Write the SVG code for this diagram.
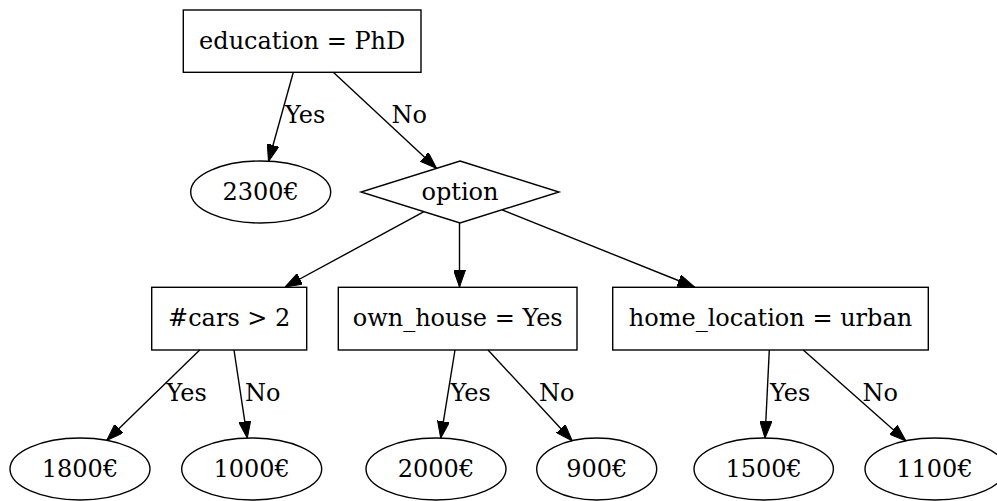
<svg xmlns="http://www.w3.org/2000/svg" width="997" height="501" viewBox="0 0 997 501">
  <style>
    .shape { fill: none; stroke: #000; stroke-width: 1.4; }
    .label { font-family: "DejaVu Serif", serif; font-size: 24px; fill: #000; }
    .node-text { text-anchor: middle; }
    .edge { stroke: #000; stroke-width: 1.4; fill: none; marker-end: url(#arrow); }
  </style>
  <defs>
    <marker id="arrow" viewBox="0 -6 17 12" markerWidth="17" markerHeight="12" refX="17" refY="0" orient="auto" markerUnits="userSpaceOnUse">
      <path d="M0,-6 L17,0 L0,6 Z" fill="#000" stroke="#000" stroke-width="1"/>
    </marker>
  </defs>
  <rect x="0" y="0" width="997" height="501" fill="#fff"/>

  <!-- connectors -->
  <g id="edges">
    <line class="edge" x1="293.3" y1="72.3" x2="268.5" y2="161.5"/>
    <text class="label" x="285" y="123">Yes</text>
    <line class="edge" x1="333.3" y1="72.3" x2="436.7" y2="168.5"/>
    <text class="label" x="391.5" y="123">No</text>

    <line class="edge" x1="424" y1="211.7" x2="285" y2="287"/>
    <line class="edge" x1="459.5" y1="223" x2="459.5" y2="287"/>
    <line class="edge" x1="502" y1="209.8" x2="694.5" y2="287"/>

    <line class="edge" x1="199.7" y1="350" x2="106.7" y2="440.5"/>
    <text class="label" x="166.5" y="401">Yes</text>
    <line class="edge" x1="234" y1="350" x2="247.3" y2="438.2"/>
    <text class="label" x="245" y="401">No</text>

    <line class="edge" x1="455" y1="350" x2="440.7" y2="438.2"/>
    <text class="label" x="450.5" y="401">Yes</text>
    <line class="edge" x1="488" y1="350" x2="572.3" y2="441"/>
    <text class="label" x="539" y="401">No</text>

    <line class="edge" x1="769.3" y1="350" x2="765" y2="438.2"/>
    <text class="label" x="770" y="401">Yes</text>
    <line class="edge" x1="803.3" y1="350" x2="906" y2="441"/>
    <text class="label" x="862.5" y="401">No</text>
  </g>

  <!-- nodes -->
  <g id="education">
    <rect class="shape" x="183.3" y="10" width="237.7" height="62.3"/>
    <text class="label node-text" x="302.2" y="48.5">education = PhD</text>
  </g>
  <g id="v2300">
    <ellipse class="shape" cx="260.7" cy="192" rx="70" ry="31"/>
    <text class="label node-text" x="260.7" y="199.5">2300€</text>
  </g>
  <g id="option">
    <polygon class="shape" points="460,161 559,192 460,223 361,192"/>
    <text class="label node-text" x="460" y="199.5">option</text>
  </g>
  <g id="cars">
    <rect class="shape" x="151.7" y="287.3" width="155" height="62.7"/>
    <text class="label node-text" x="229.2" y="326">#cars &gt; 2</text>
  </g>
  <g id="own_house">
    <rect class="shape" x="338.3" y="287.3" width="238.7" height="62.7"/>
    <text class="label node-text" x="457.7" y="326">own_house = Yes</text>
  </g>
  <g id="home_location">
    <rect class="shape" x="612.7" y="287.3" width="315.6" height="62.7"/>
    <text class="label node-text" x="770.5" y="326">home_location = urban</text>
  </g>
  <g id="v1800">
    <ellipse class="shape" cx="80" cy="469" rx="70" ry="31"/>
    <text class="label node-text" x="80" y="476.5">1800€</text>
  </g>
  <g id="v1000">
    <ellipse class="shape" cx="251.7" cy="469" rx="70" ry="31"/>
    <text class="label node-text" x="251.7" y="476.5">1000€</text>
  </g>
  <g id="v2000">
    <ellipse class="shape" cx="436" cy="469" rx="70" ry="31"/>
    <text class="label node-text" x="436" y="476.5">2000€</text>
  </g>
  <g id="v900">
    <ellipse class="shape" cx="596.7" cy="469" rx="60" ry="31"/>
    <text class="label node-text" x="596.7" y="476.5">900€</text>
  </g>
  <g id="v1500">
    <ellipse class="shape" cx="763.7" cy="469" rx="69.7" ry="31"/>
    <text class="label node-text" x="763.7" y="476.5">1500€</text>
  </g>
  <g id="v1100">
    <ellipse class="shape" cx="935" cy="469" rx="70" ry="31"/>
    <text class="label node-text" x="934.5" y="476.5">1100€</text>
  </g>
</svg>
